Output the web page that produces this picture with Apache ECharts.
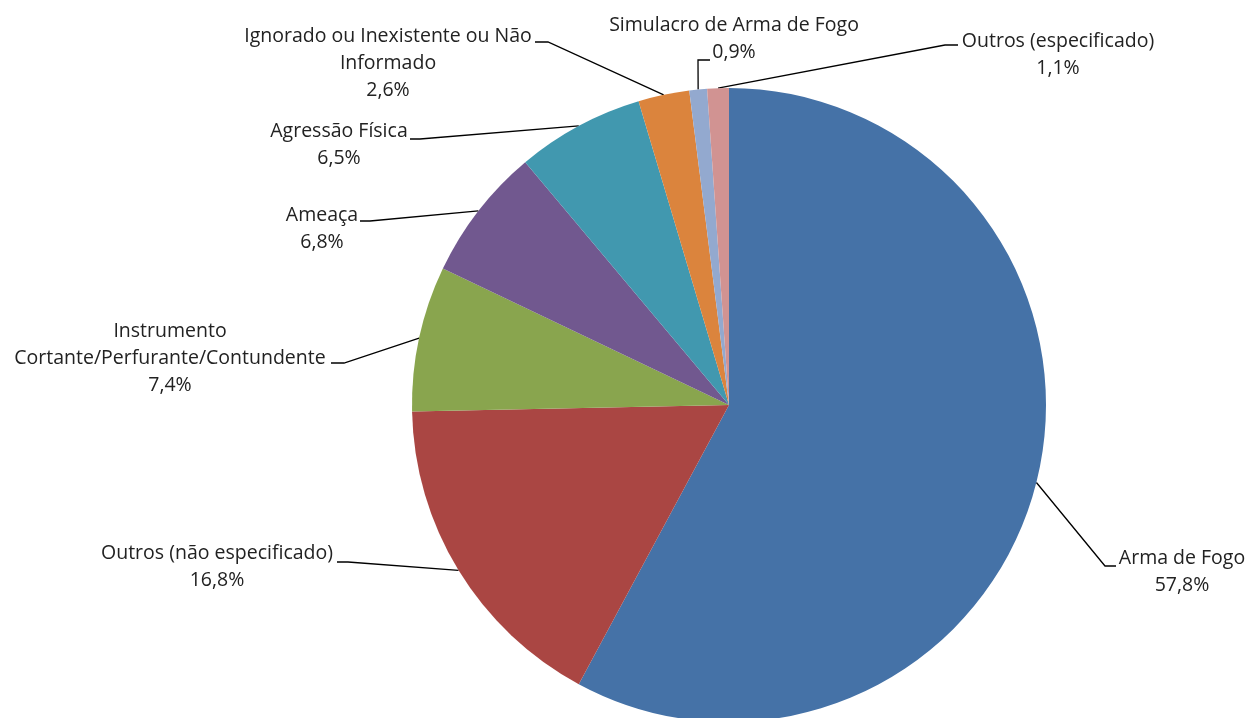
<!DOCTYPE html>
<html>
<head>
<meta charset="utf-8">
<script src="https://cdn.jsdelivr.net/npm/echarts@6/dist/echarts.min.js"></script>
<style>
  html, body { margin: 0; padding: 0; background: #fff; }
  #chart { width: 1248px; height: 718px; }
</style>
</head>
<body>
<div id="chart"></div>
<script>
// Categories and their shares (%), clockwise from the top
const categories = [
  'Arma de Fogo',
  'Outros (não especificado)',
  'Instrumento\nCortante/Perfurante/Contundente',
  'Ameaça',
  'Agressão Física',
  'Ignorado ou Inexistente ou Não\nInformado',
  'Simulacro de Arma de Fogo',
  'Outros (especificado)'
];
const shares = [57.8, 16.8, 7.4, 6.8, 6.5, 2.6, 0.9, 1.1];

const colors = ['#4572A7', '#AA4643', '#89A54E', '#71588F', '#4198AF', '#DB843D', '#93A9CF', '#D19392'];

// Label placement: [centerX, centerY, elbowX, elbowY, stubEndX, stubEndY]
const labelSpots = [
  [1182, 572, 1105, 566, 1116, 566],
  [217, 567, 348, 562, 337, 562],
  [170, 358, 344, 363, 331, 363],
  [322, 229, 370, 221, 360, 221],
  [339, 145, 420, 139, 410, 139],
  [388, 63, 548, 42, 535, 42],
  [734, 39, 698, 60, 710, 60],
  [1058, 55, 945, 45, 958, 45]
];

const fmt = v => v.toFixed(1).replace('.', ',') + '%';

const chart = echarts.init(document.getElementById('chart'), null, { renderer: 'canvas' });

chart.setOption({
  animation: false,
  backgroundColor: '#ffffff',
  series: [{
    type: 'pie',
    center: [729, 405],
    radius: 317,
    startAngle: 90,
    clockwise: true,
    avoidLabelOverlap: false,
    data: categories.map((name, i) => ({
      name: name,
      value: shares[i],
      itemStyle: { color: colors[i] }
    })),
    itemStyle: { borderWidth: 0 },
    label: {
      show: true,
      position: 'outside',
      formatter: p => p.name + '\n' + fmt(p.value),
      fontFamily: 'Open Sans',
      fontSize: 19.5,
      lineHeight: 27,
      color: '#222222',
      align: 'center'
    },
    labelLine: {
      show: true,
      length: 20,
      length2: 10,
      lineStyle: { color: '#000000', width: 1.3 }
    },
    labelLayout: function (params) {
      const s = labelSpots[params.dataIndex];
      const start = params.labelLinePoints ? params.labelLinePoints[0] : [s[2], s[3]];
      return {
        x: s[0],
        y: s[1],
        align: 'center',
        verticalAlign: 'middle',
        labelLinePoints: [start, [s[2], s[3]], [s[4], s[5]]]
      };
    },
    emphasis: { disabled: true }
  }]
});
</script>
</body>
</html>
